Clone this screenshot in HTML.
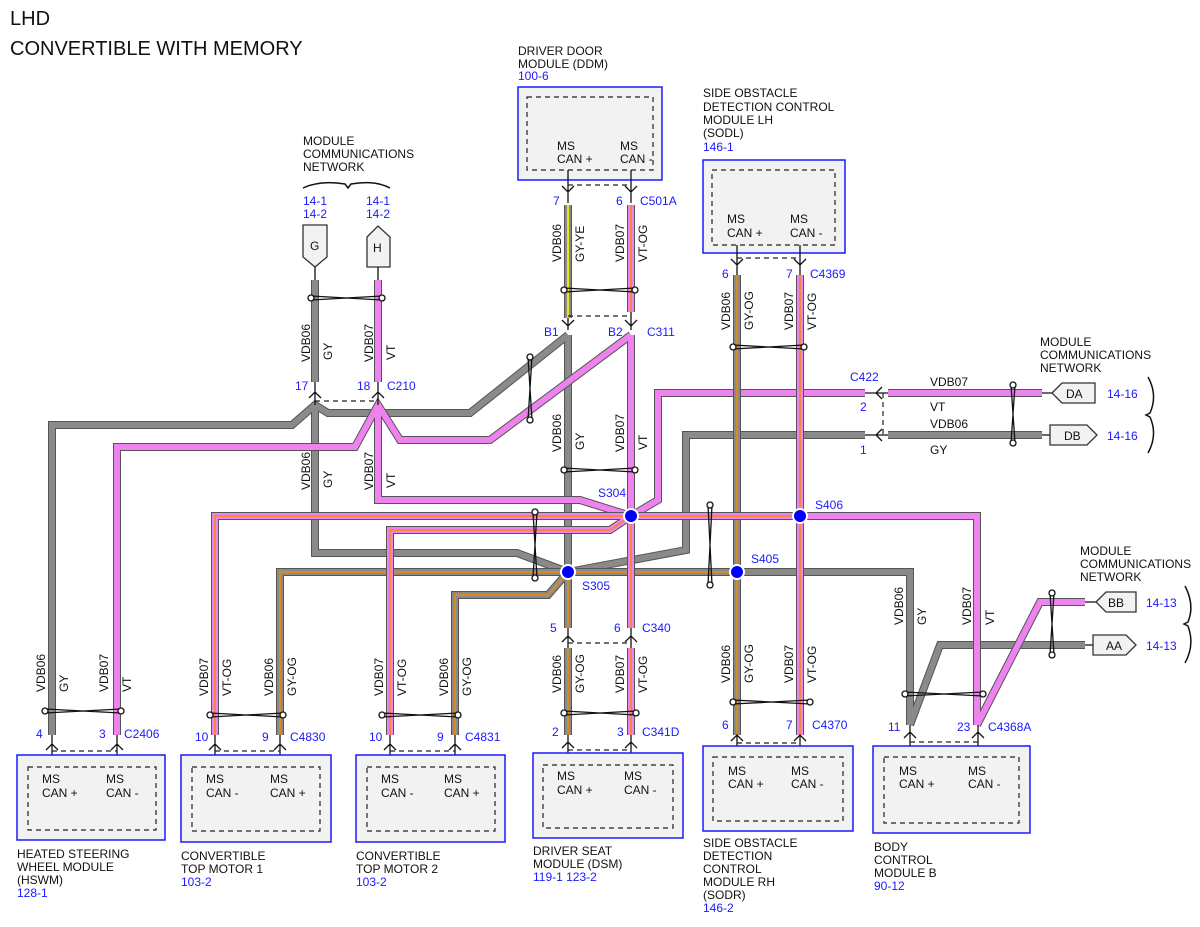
<!DOCTYPE html>
<html><head><meta charset="utf-8"><style>
html,body{margin:0;padding:0;background:#fff}
svg{display:block}
text{font-family:"Liberation Sans",Arial,sans-serif;font-size:12px;fill:#111}
.b{fill:#1a1aff}
.t{font-size:20px}
.box{fill:#f2f2f2;stroke:#1a1aff;stroke-width:1.5}
.in{fill:none;stroke:#222;stroke-width:1.2;stroke-dasharray:5 4}
.dl{fill:none;stroke:#222;stroke-width:1.2;stroke-dasharray:5 4}
.o{fill:none;stroke:#555;stroke-width:8;stroke-linejoin:miter}
.gy{fill:none;stroke:#8a8a8a;stroke-width:6}
.vt{fill:none;stroke:#ee82ee;stroke-width:6}
.og{fill:none;stroke:#f08c00;stroke-width:1.4}
.ye{fill:none;stroke:#ffff00;stroke-width:1.6}
.pl{stroke:#111;stroke-width:1.3;fill:none}
.tw{stroke:#111;stroke-width:1.3;fill:none}
.tc{fill:#fff;stroke:#111;stroke-width:1.3}
.sp{fill:#0000ff;stroke:#fff;stroke-width:2}
.cn{fill:#f2f2f2;stroke:#333;stroke-width:1.3}
</style></head><body>
<svg width="1200" height="927" viewBox="0 0 1200 927" xmlns="http://www.w3.org/2000/svg">
<text x="10" y="25" class="t">LHD</text>
<text x="10" y="55" class="t">CONVERTIBLE WITH MEMORY</text>

<g>
<path class="o" d="M315,280V382 M52,735V425H292L315,405L328,413H470L568,335 M315,405V553H517L568,572 M568,335V572 M568,572L686,550V435H865 M888,435H1042 M737,572H910V725 M910,725L940,645H1085"/>
<path class="gy" d="M315,280V382 M52,735V425H292L315,405L328,413H470L568,335 M315,405V553H517L568,572 M568,335V572 M568,572L686,550V435H865 M888,435H1042 M737,572H910V725 M910,725L940,645H1085"/>
</g>
<path class="o" d="M568,205V318"/><path class="gy" d="M568,205V318"/><path class="ye" d="M568,205V318"/>
<g>
<path class="o" d="M378,280V382 M117,735V447H355L378,405L400,440H490L631,335 M378,405V500H580L631,516 M631,335V516 M631,516L658,500V393H865 M888,393H1042 M800,516H977V725 M977,725L1040,602H1085"/>
<path class="vt" d="M378,280V382 M117,735V447H355L378,405L400,440H490L631,335 M378,405V500H580L631,516 M631,335V516 M631,516L658,500V393H865 M888,393H1042 M800,516H977V725 M977,725L1040,602H1085"/>
</g>
<g>
<path class="o" d="M280,735V572H737 M455,735V595H548L568,572 M568,572V628 M568,648V735 M737,275V735"/>
<path class="gy" d="M280,735V572H737 M455,735V595H548L568,572 M568,572V628 M568,648V735 M737,275V735"/>
<path class="og" d="M280,735V572H737 M455,735V595H548L568,572 M568,572V628 M568,648V735 M737,275V735"/>
</g>
<g>
<path class="o" d="M631,205V312 M215,735V516H800 M390,735V530H610L631,516 M631,516V628 M631,648V735 M800,275V735"/>
<path class="vt" d="M631,205V312 M215,735V516H800 M390,735V530H610L631,516 M631,516V628 M631,648V735 M800,275V735"/>
<path class="og" d="M631,205V312 M215,735V516H800 M390,735V530H610L631,516 M631,516V628 M631,648V735 M800,275V735"/>
</g>

<circle class="sp" cx="631" cy="516" r="7"/>
<circle class="sp" cx="568" cy="572" r="7"/>
<circle class="sp" cx="737" cy="572" r="7"/>
<circle class="sp" cx="800" cy="516" r="7"/>
<text x="598" y="497" class="b">S304</text>
<text x="582" y="590" class="b">S305</text>
<text x="751" y="563" class="b">S405</text>
<text x="815" y="509" class="b">S406</text>

<g>
<path class="tw" d="M311,296L382,300M311,300L382,296"/><circle class="tc" cx="311" cy="298" r="3"/><circle class="tc" cx="382" cy="298" r="3"/>
<path class="tw" d="M564,288L635,292M564,292L635,288"/><circle class="tc" cx="564" cy="290" r="3"/><circle class="tc" cx="635" cy="290" r="3"/>
<path class="tw" d="M564,468L635,472M564,472L635,468"/><circle class="tc" cx="564" cy="470" r="3"/><circle class="tc" cx="635" cy="470" r="3"/>
<path class="tw" d="M733,345L804,349M733,349L804,345"/><circle class="tc" cx="733" cy="347" r="3"/><circle class="tc" cx="804" cy="347" r="3"/>
<path class="tw" d="M45,709L121,713M45,713L121,709"/><circle class="tc" cx="45" cy="711" r="3"/><circle class="tc" cx="121" cy="711" r="3"/>
<path class="tw" d="M210,713L283,717M210,717L283,713"/><circle class="tc" cx="210" cy="715" r="3"/><circle class="tc" cx="283" cy="715" r="3"/>
<path class="tw" d="M382,713L458,717M382,717L458,713"/><circle class="tc" cx="382" cy="715" r="3"/><circle class="tc" cx="458" cy="715" r="3"/>
<path class="tw" d="M564,711L636,715M564,715L636,711"/><circle class="tc" cx="564" cy="713" r="3"/><circle class="tc" cx="636" cy="713" r="3"/>
<path class="tw" d="M733,700L810,704M733,704L810,700"/><circle class="tc" cx="733" cy="702" r="3"/><circle class="tc" cx="810" cy="702" r="3"/>
<path class="tw" d="M905,692L983,696M905,696L983,692"/><circle class="tc" cx="905" cy="694" r="3"/><circle class="tc" cx="983" cy="694" r="3"/>
</g>
<g>
<path class="tw" d="M528,357L532,420M532,357L528,420"/><circle class="tc" cx="530" cy="357" r="3"/><circle class="tc" cx="530" cy="420" r="3"/>
<path class="tw" d="M533,512L537,578M537,512L533,578"/><circle class="tc" cx="535" cy="512" r="3"/><circle class="tc" cx="535" cy="578" r="3"/>
<path class="tw" d="M708,505L712,585M712,505L708,585"/><circle class="tc" cx="710" cy="505" r="3"/><circle class="tc" cx="710" cy="585" r="3"/>
<path class="tw" d="M1011,385L1015,443M1015,385L1011,443"/><circle class="tc" cx="1013" cy="385" r="3"/><circle class="tc" cx="1013" cy="443" r="3"/>
<path class="tw" d="M1050,593L1054,655M1054,593L1050,655"/><circle class="tc" cx="1052" cy="593" r="3"/><circle class="tc" cx="1052" cy="655" r="3"/>
</g>

<text x="518" y="55">DRIVER DOOR</text><text x="518" y="68">MODULE (DDM)</text><text x="518" y="80" class="b">100-6</text>
<rect class="box" x="518" y="87" width="144" height="93"/>
<rect class="in" x="527" y="97" width="126" height="73"/>
<text x="557" y="150">MS</text><text x="557" y="163">CAN +</text>
<text x="620" y="150">MS</text><text x="620" y="163">CAN -</text>
<path class="pl" d="M568,170V203M631,170V203M562,186L568,192L574,186M625,186L631,192L637,186"/>
<path class="dl" d="M568,185H631"/>
<text x="553" y="205" class="b">7</text><text x="616" y="205" class="b">6</text><text x="640" y="205" class="b">C501A</text>
<path class="pl" d="M568,318V330M631,312V330M562,320L568,326L574,320M625,320L631,326L637,320"/>
<path class="dl" d="M568,316H631"/>
<text x="544" y="336" class="b">B1</text><text x="608" y="336" class="b">B2</text><text x="647" y="336" class="b">C311</text>

<text x="703" y="97">SIDE OBSTACLE</text><text x="703" y="111">DETECTION CONTROL</text><text x="703" y="124">MODULE LH</text><text x="703" y="137">(SODL)</text><text x="703" y="151" class="b">146-1</text>
<rect class="box" x="703" y="160" width="142" height="93"/>
<rect class="in" x="712" y="170" width="123" height="75"/>
<text x="727" y="223">MS</text><text x="727" y="237">CAN +</text>
<text x="790" y="223">MS</text><text x="790" y="237">CAN -</text>
<path class="pl" d="M737,245V275M800,245V275M731,259L737,265L743,259M794,259L800,265L806,259"/>
<path class="dl" d="M737,258H800"/>
<text x="722" y="278" class="b">6</text><text x="786" y="278" class="b">7</text><text x="810" y="278" class="b">C4369</text>

<text x="303" y="145">MODULE</text><text x="303" y="158">COMMUNICATIONS</text><text x="303" y="171">NETWORK</text>
<path d="M303,188Q320,180 345,184L348,188L351,184Q375,180 390,188" fill="none" stroke="#111" stroke-width="1.5"/>
<text x="303" y="205" class="b">14-1</text><text x="303" y="218" class="b">14-2</text>
<text x="366" y="205" class="b">14-1</text><text x="366" y="218" class="b">14-2</text>
<path class="cn" d="M303,225H327V257L315,267L303,257Z"/><text x="310" y="250">G</text>
<path class="cn" d="M367,237L378,226L390,237V267H367Z"/><text x="373" y="252">H</text>
<path class="pl" d="M315,267V280M378,267V280"/>
<path class="pl" d="M315,382V405M378,382V405M309,398L315,392L321,398M372,398L378,392L384,398"/>
<path class="dl" d="M315,401H378"/>
<text x="295" y="390" class="b">17</text><text x="357" y="390" class="b">18</text><text x="387" y="390" class="b">C210</text>

<text x="850" y="381" class="b">C422</text>
<text x="860" y="411" class="b">2</text><text x="860" y="454" class="b">1</text>
<path class="pl" d="M865,393H888M865,435H888M882,387L876,393L882,399M882,429L876,435L882,441"/>
<path class="dl" d="M883,393V435"/>
<text x="930" y="386">VDB07</text><text x="930" y="411">VT</text><text x="930" y="428">VDB06</text><text x="930" y="454">GY</text>
<path class="pl" d="M1042,393H1052M1042,435H1052"/>
<path class="cn" d="M1052,393L1062,383H1095V403H1062Z"/><text x="1066" y="398">DA</text>
<path class="cn" d="M1050,425H1087L1097,435L1087,445H1050Z"/><text x="1064" y="440">DB</text>
<text x="1107" y="398" class="b">14-16</text><text x="1107" y="440" class="b">14-16</text>
<path d="M1148,377Q1158,395 1150,413L1146,415L1150,417Q1158,435 1148,453" fill="none" stroke="#111" stroke-width="1.5"/>
<text x="1040" y="346">MODULE</text><text x="1040" y="359">COMMUNICATIONS</text><text x="1040" y="372">NETWORK</text>

<text x="1080" y="555">MODULE</text><text x="1080" y="568">COMMUNICATIONS</text><text x="1080" y="581">NETWORK</text>
<path class="pl" d="M1085,602H1096M1085,645H1096"/>
<path class="cn" d="M1096,602L1106,592H1136V612H1106Z"/><text x="1108" y="607">BB</text>
<path class="cn" d="M1093,635H1126L1136,645L1126,655H1093Z"/><text x="1106" y="650">AA</text>
<text x="1146" y="607" class="b">14-13</text><text x="1146" y="650" class="b">14-13</text>
<path d="M1185,586Q1195,605 1188,622L1184,624L1188,626Q1195,645 1185,663" fill="none" stroke="#111" stroke-width="1.5"/>

<g>
<text transform="translate(310,362) rotate(-90)">VDB06</text><text transform="translate(332,360) rotate(-90)">GY</text>
<text transform="translate(373,362) rotate(-90)">VDB07</text><text transform="translate(395,360) rotate(-90)">VT</text>
<text transform="translate(310,490) rotate(-90)">VDB06</text><text transform="translate(332,488) rotate(-90)">GY</text>
<text transform="translate(373,490) rotate(-90)">VDB07</text><text transform="translate(395,488) rotate(-90)">VT</text>
<text transform="translate(561,262) rotate(-90)">VDB06</text><text transform="translate(584,262) rotate(-90)">GY-YE</text>
<text transform="translate(624,262) rotate(-90)">VDB07</text><text transform="translate(647,262) rotate(-90)">VT-OG</text>
<text transform="translate(561,452) rotate(-90)">VDB06</text><text transform="translate(584,450) rotate(-90)">GY</text>
<text transform="translate(624,452) rotate(-90)">VDB07</text><text transform="translate(647,450) rotate(-90)">VT</text>
<text transform="translate(730,330) rotate(-90)">VDB06</text><text transform="translate(753,330) rotate(-90)">GY-OG</text>
<text transform="translate(793,330) rotate(-90)">VDB07</text><text transform="translate(816,330) rotate(-90)">VT-OG</text>
<text transform="translate(45,692) rotate(-90)">VDB06</text><text transform="translate(68,692) rotate(-90)">GY</text>
<text transform="translate(108,692) rotate(-90)">VDB07</text><text transform="translate(131,692) rotate(-90)">VT</text>
<text transform="translate(208,696) rotate(-90)">VDB07</text><text transform="translate(231,696) rotate(-90)">VT-OG</text>
<text transform="translate(273,696) rotate(-90)">VDB06</text><text transform="translate(296,696) rotate(-90)">GY-OG</text>
<text transform="translate(383,696) rotate(-90)">VDB07</text><text transform="translate(406,696) rotate(-90)">VT-OG</text>
<text transform="translate(448,696) rotate(-90)">VDB06</text><text transform="translate(471,696) rotate(-90)">GY-OG</text>
<text transform="translate(561,693) rotate(-90)">VDB06</text><text transform="translate(584,693) rotate(-90)">GY-OG</text>
<text transform="translate(624,693) rotate(-90)">VDB07</text><text transform="translate(647,693) rotate(-90)">VT-OG</text>
<text transform="translate(730,683) rotate(-90)">VDB06</text><text transform="translate(753,683) rotate(-90)">GY-OG</text>
<text transform="translate(793,683) rotate(-90)">VDB07</text><text transform="translate(816,683) rotate(-90)">VT-OG</text>
<text transform="translate(903,625) rotate(-90)">VDB06</text><text transform="translate(926,625) rotate(-90)">GY</text>
<text transform="translate(971,625) rotate(-90)">VDB07</text><text transform="translate(994,625) rotate(-90)">VT</text>
</g>

<path class="pl" d="M568,628V648M631,628V648M562,642L568,636L574,642M625,642L631,636L637,642"/>
<path class="dl" d="M568,643H631"/>
<text x="550" y="632" class="b">5</text><text x="614" y="632" class="b">6</text><text x="642" y="632" class="b">C340</text>

<path class="pl" d="M52,735V767M117,735V767M46,750L52,744L58,750M111,750L117,744L123,750"/>
<path class="dl" d="M52,751H117"/>
<text x="36" y="738" class="b">4</text><text x="99" y="738" class="b">3</text><text x="124" y="738" class="b">C2406</text>
<rect class="box" x="17" y="755" width="148" height="85"/>
<rect class="in" x="28" y="767" width="128" height="63"/>
<text x="42" y="783">MS</text><text x="42" y="797">CAN +</text><text x="106" y="783">MS</text><text x="106" y="797">CAN -</text>
<text x="17" y="858">HEATED STEERING</text><text x="17" y="871">WHEEL MODULE</text><text x="17" y="884">(HSWM)</text><text x="17" y="897" class="b">128-1</text>

<path class="pl" d="M215,735V767M280,735V767M209,750L215,744L221,750M274,750L280,744L286,750"/>
<path class="dl" d="M215,751H280"/>
<text x="195" y="741" class="b">10</text><text x="262" y="741" class="b">9</text><text x="290" y="741" class="b">C4830</text>
<rect class="box" x="181" y="755" width="150" height="87"/>
<rect class="in" x="192" y="767" width="128" height="64"/>
<text x="206" y="783">MS</text><text x="206" y="797">CAN -</text><text x="270" y="783">MS</text><text x="270" y="797">CAN +</text>
<text x="181" y="860">CONVERTIBLE</text><text x="181" y="873">TOP MOTOR 1</text><text x="181" y="886" class="b">103-2</text>

<path class="pl" d="M390,735V767M455,735V767M384,750L390,744L396,750M449,750L455,744L461,750"/>
<path class="dl" d="M390,751H455"/>
<text x="369" y="741" class="b">10</text><text x="437" y="741" class="b">9</text><text x="465" y="741" class="b">C4831</text>
<rect class="box" x="356" y="755" width="149" height="87"/>
<rect class="in" x="367" y="767" width="128" height="64"/>
<text x="381" y="783">MS</text><text x="381" y="797">CAN -</text><text x="444" y="783">MS</text><text x="444" y="797">CAN +</text>
<text x="356" y="860">CONVERTIBLE</text><text x="356" y="873">TOP MOTOR 2</text><text x="356" y="886" class="b">103-2</text>

<path class="pl" d="M568,735V765M631,735V765M562,748L568,742L574,748M625,748L631,742L637,748"/>
<path class="dl" d="M568,750H631"/>
<text x="552" y="736" class="b">2</text><text x="617" y="736" class="b">3</text><text x="642" y="736" class="b">C341D</text>
<rect class="box" x="533" y="753" width="150" height="85"/>
<rect class="in" x="543" y="765" width="130" height="63"/>
<text x="557" y="780">MS</text><text x="557" y="794">CAN +</text><text x="624" y="780">MS</text><text x="624" y="794">CAN -</text>
<text x="533" y="855">DRIVER SEAT</text><text x="533" y="868">MODULE (DSM)</text><text x="533" y="881" class="b">119-1 123-2</text>

<path class="pl" d="M737,735V757M800,735V757M731,741L737,735L743,741M794,741L800,735L806,741"/>
<path class="dl" d="M737,743H800"/>
<text x="722" y="729" class="b">6</text><text x="786" y="729" class="b">7</text><text x="812" y="729" class="b">C4370</text>
<rect class="box" x="703" y="746" width="150" height="85"/>
<rect class="in" x="713" y="757" width="130" height="64"/>
<text x="728" y="775">MS</text><text x="728" y="788">CAN +</text><text x="791" y="775">MS</text><text x="791" y="788">CAN -</text>
<text x="703" y="847">SIDE OBSTACLE</text><text x="703" y="860">DETECTION</text><text x="703" y="873">CONTROL</text><text x="703" y="886">MODULE RH</text><text x="703" y="899">(SODR)</text><text x="703" y="912" class="b">146-2</text>

<path class="pl" d="M910,725V757M978,725V757M904,738L910,732L916,738M972,738L978,732L984,738"/>
<path class="dl" d="M910,742H978"/>
<text x="888" y="731" class="b">11</text><text x="957" y="731" class="b">23</text><text x="988" y="731" class="b">C4368A</text>
<rect class="box" x="873" y="746" width="157" height="87"/>
<rect class="in" x="884" y="757" width="135" height="66"/>
<text x="899" y="775">MS</text><text x="899" y="788">CAN +</text><text x="968" y="775">MS</text><text x="968" y="788">CAN -</text>
<text x="874" y="851">BODY</text><text x="874" y="864">CONTROL</text><text x="874" y="877">MODULE B</text><text x="874" y="890" class="b">90-12</text>
</svg>
</body></html>
